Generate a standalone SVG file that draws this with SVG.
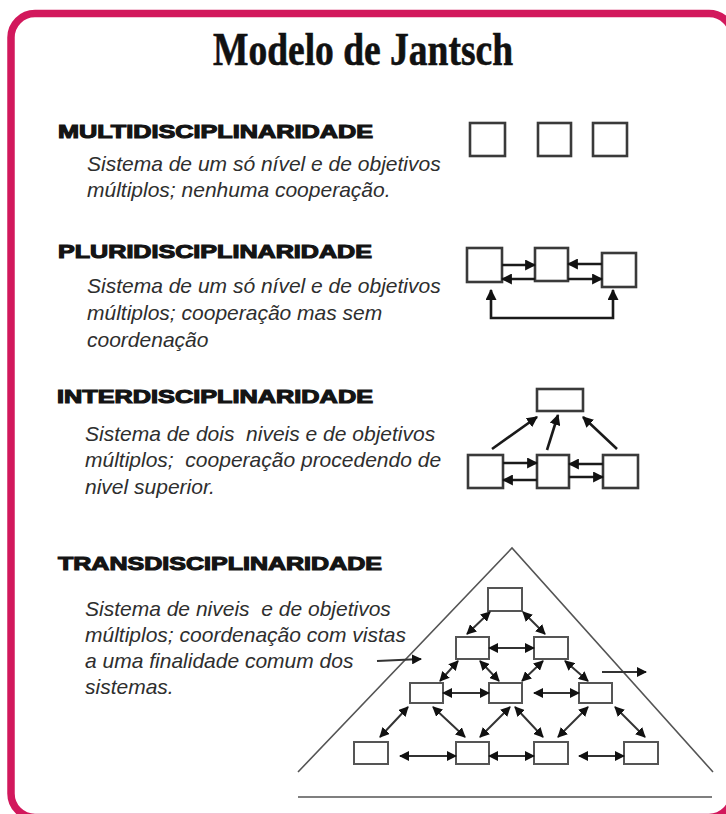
<svg xmlns="http://www.w3.org/2000/svg" width="726" height="814" viewBox="0 0 726 814">
<style>
.title{font-family:"Liberation Serif","Times New Roman",serif;font-weight:bold;font-size:46px;fill:#111;stroke:#111;stroke-width:0.6}
.head{font-family:"Liberation Sans",Arial,sans-serif;font-weight:bold;font-size:18.5px;fill:#141414;stroke:#141414;stroke-width:1.1}
.desc{font-family:"Liberation Sans",Arial,sans-serif;font-style:italic;font-size:21px;fill:#2e2e2e}
.bx{fill:#fff;stroke:#3a3a3a;stroke-width:2.6}
.bxs{fill:#fff;stroke:#555;stroke-width:2}
.ln{fill:none;stroke:#1a1a1a;stroke-width:2.6}
.lp{fill:none;stroke:#333;stroke-width:2}
.tri{fill:none;stroke:#555;stroke-width:1.6}
</style>
<defs>
<marker id="ah" viewBox="0 0 10 10" refX="9" refY="5" markerWidth="11" markerHeight="11" markerUnits="userSpaceOnUse" orient="auto-start-reverse">
<path d="M0,0 L10,5 L0,10 z" fill="#111"/>
</marker>
<marker id="ahs" viewBox="0 0 10 10" refX="9" refY="5" markerWidth="10" markerHeight="10" markerUnits="userSpaceOnUse" orient="auto-start-reverse">
<path d="M0,0 L10,5 L0,10 z" fill="#111"/>
</marker>
</defs>
<rect x="0" y="0" width="726" height="814" fill="#fff"/>
<rect x="11" y="13.5" width="722" height="804" rx="24" ry="24" fill="none" stroke="#d2185c" stroke-width="7.5"/>

<g id="title"><text class="title" x="363" y="65" text-anchor="middle" textLength="300" lengthAdjust="spacingAndGlyphs">Modelo de Jantsch</text></g>

<g id="multi-text">
<text class="head" x="58" y="138" textLength="315" lengthAdjust="spacingAndGlyphs">MULTIDISCIPLINARIDADE</text>
<text class="desc" x="87" y="171">Sistema de um só nível e de objetivos</text>
<text class="desc" x="87" y="197">múltiplos; nenhuma cooperação.</text>
</g>
<g id="pluri-text">
<text class="head" x="58" y="258" textLength="314" lengthAdjust="spacingAndGlyphs">PLURIDISCIPLINARIDADE</text>
<text class="desc" x="87" y="293">Sistema de um só nível e de objetivos</text>
<text class="desc" x="87" y="320">múltiplos; cooperação mas sem</text>
<text class="desc" x="87" y="347">coordenação</text>
</g>
<g id="inter-text">
<text class="head" x="57" y="403" textLength="316" lengthAdjust="spacingAndGlyphs">INTERDISCIPLINARIDADE</text>
<text class="desc" x="85" y="441" xml:space="preserve">Sistema de dois  niveis e de objetivos</text>
<text class="desc" x="85" y="467" xml:space="preserve">múltiplos;  cooperação procedendo de</text>
<text class="desc" x="85" y="494">nivel superior.</text>
</g>
<g id="trans-text">
<text class="head" x="58" y="570" textLength="324" lengthAdjust="spacingAndGlyphs">TRANSDISCIPLINARIDADE</text>
<text class="desc" x="85" y="616" xml:space="preserve">Sistema de niveis  e de objetivos</text>
<text class="desc" x="85" y="642">múltiplos; coordenação com vistas</text>
<text class="desc" x="85" y="668">a uma finalidade comum dos</text>
<text class="desc" x="85" y="694">sistemas.</text>
</g>

<!-- Multi nodes -->
<g id="m1"><rect class="bx" x="470" y="123" width="35" height="33"/></g>
<g id="m2"><rect class="bx" x="538" y="123" width="33" height="33"/></g>
<g id="m3"><rect class="bx" x="593" y="123" width="34" height="33"/></g>

<!-- Pluri nodes -->
<g id="p1"><rect class="bx" x="467" y="248" width="35" height="34"/></g>
<g id="p2"><rect class="bx" x="535" y="248" width="33" height="33"/></g>
<g id="p3"><rect class="bx" x="602" y="253" width="34" height="34"/></g>

<!-- Inter nodes -->
<g id="i0"><rect class="bx" x="537" y="389" width="46" height="22"/></g>
<g id="i1"><rect class="bx" x="468" y="455" width="35" height="33"/></g>
<g id="i2"><rect class="bx" x="537" y="455" width="32" height="33"/></g>
<g id="i3"><rect class="bx" x="603" y="455" width="35" height="33"/></g>

<!-- Trans nodes -->
<g id="t-pyramid"><polyline class="tri" points="298,772 512,548 713,772"/><line class="tri" x1="298" y1="797" x2="712" y2="797" stroke-width="2.2"/></g>
<g id="t0"><rect class="bxs" x="488" y="588" width="34" height="23"/></g>
<g id="t21"><rect class="bxs" x="456" y="637" width="33" height="22"/></g>
<g id="t22"><rect class="bxs" x="534" y="637" width="34" height="22"/></g>
<g id="t31"><rect class="bxs" x="410" y="683" width="33" height="20"/></g>
<g id="t32"><rect class="bxs" x="489" y="683" width="33" height="20"/></g>
<g id="t33"><rect class="bxs" x="579" y="683" width="33" height="20"/></g>
<g id="t41"><rect class="bxs" x="354" y="742" width="34" height="22"/></g>
<g id="t42"><rect class="bxs" x="456" y="742" width="33" height="22"/></g>
<g id="t43"><rect class="bxs" x="534" y="742" width="34" height="22"/></g>
<g id="t44"><rect class="bxs" x="624" y="742" width="34" height="22"/></g>

<g id="connectors">
<!-- pluri -->
<line class="ln" x1="502" y1="265" x2="535" y2="265" marker-end="url(#ah)"/>
<line class="ln" x1="535" y1="279" x2="502" y2="279" marker-end="url(#ah)"/>
<line class="ln" x1="602" y1="264" x2="568" y2="264" marker-end="url(#ah)"/>
<line class="ln" x1="568" y1="279" x2="602" y2="279" marker-end="url(#ah)"/>
<polyline class="ln" points="491,290 491,318 613,318 613,290" marker-start="url(#ah)" marker-end="url(#ah)"/>
<!-- inter -->
<line class="ln" x1="492" y1="449" x2="537" y2="417" marker-end="url(#ah)"/>
<line class="ln" x1="547" y1="450" x2="558" y2="415" marker-end="url(#ah)"/>
<line class="ln" x1="617" y1="449" x2="583" y2="417" marker-end="url(#ah)"/>
<line class="ln" x1="503" y1="463" x2="537" y2="463" marker-end="url(#ah)"/>
<line class="ln" x1="537" y1="480" x2="503" y2="480" marker-end="url(#ah)"/>
<line class="ln" x1="603" y1="464" x2="569" y2="464" marker-end="url(#ah)"/>
<line class="ln" x1="569" y1="477" x2="603" y2="477" marker-end="url(#ah)"/>
<!-- trans -->
<line class="lp" x1="490" y1="612" x2="467" y2="634" marker-start="url(#ahs)" marker-end="url(#ahs)"/>
<line class="lp" x1="523" y1="612" x2="545" y2="634" marker-start="url(#ahs)" marker-end="url(#ahs)"/>
<line class="lp" x1="489" y1="648" x2="534" y2="648" marker-start="url(#ahs)" marker-end="url(#ahs)"/>
<line class="lp" x1="458" y1="661" x2="440" y2="681" marker-start="url(#ahs)" marker-end="url(#ahs)"/>
<line class="lp" x1="480" y1="661" x2="499" y2="681" marker-start="url(#ahs)" marker-end="url(#ahs)"/>
<line class="lp" x1="543" y1="661" x2="522" y2="681" marker-start="url(#ahs)" marker-end="url(#ahs)"/>
<line class="lp" x1="565" y1="661" x2="588" y2="681" marker-start="url(#ahs)" marker-end="url(#ahs)"/>
<line class="lp" x1="443" y1="693" x2="489" y2="693" marker-start="url(#ahs)" marker-end="url(#ahs)"/>
<line class="lp" x1="534" y1="693" x2="579" y2="693" marker-start="url(#ahs)" marker-end="url(#ahs)"/>
<line class="lp" x1="408" y1="707" x2="380" y2="737" marker-start="url(#ahs)" marker-end="url(#ahs)"/>
<line class="lp" x1="433" y1="707" x2="465" y2="737" marker-start="url(#ahs)" marker-end="url(#ahs)"/>
<line class="lp" x1="510" y1="707" x2="480" y2="737" marker-start="url(#ahs)" marker-end="url(#ahs)"/>
<line class="lp" x1="515" y1="707" x2="543" y2="737" marker-start="url(#ahs)" marker-end="url(#ahs)"/>
<line class="lp" x1="588" y1="707" x2="558" y2="737" marker-start="url(#ahs)" marker-end="url(#ahs)"/>
<line class="lp" x1="615" y1="707" x2="645" y2="737" marker-start="url(#ahs)" marker-end="url(#ahs)"/>
<line class="lp" x1="400" y1="756" x2="456" y2="756" marker-start="url(#ahs)" marker-end="url(#ahs)"/>
<line class="lp" x1="489" y1="756" x2="534" y2="756" marker-start="url(#ahs)" marker-end="url(#ahs)"/>
<line class="lp" x1="579" y1="756" x2="624" y2="756" marker-start="url(#ahs)" marker-end="url(#ahs)"/>
<line class="lp" x1="377" y1="661" x2="421" y2="659" marker-end="url(#ahs)"/>
<line class="lp" x1="602" y1="672" x2="646" y2="672" marker-end="url(#ahs)"/>
</g>
</svg>
